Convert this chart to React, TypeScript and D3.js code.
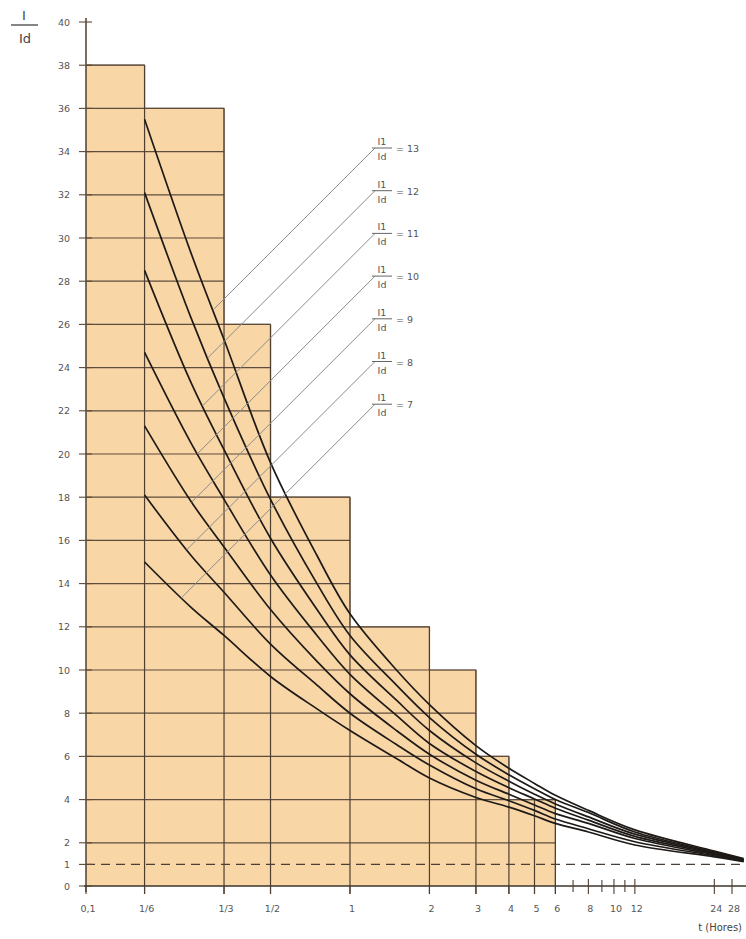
import { useEffect, useRef } from 'react';
import * as d3 from 'd3';

// bars (permissible overload steps)
const barStart = [0.1, 1 / 6, 1 / 3, 1 / 2, 1, 2, 3, 4];
const barEnd = [1 / 6, 1 / 3, 1 / 2, 1, 2, 3, 4, 6];
const barHeight = [38, 36, 26, 18, 12, 10, 6, 4];

// curves I1/Id = 7 .. 13
const times = [1 / 6, 0.25, 1 / 3, 0.5, 0.75, 1, 1.5, 2, 3, 4, 5, 6, 8, 12, 24, 31];
const c13 = [35.5, 29.3, 25.3, 19.6, 15.3, 12.6, 10.0, 8.4, 6.5, 5.45, 4.75, 4.2, 3.5, 2.6, 1.62, 1.27];
const c12 = [32.1, 26.3, 22.6, 17.9, 14.0, 11.6, 9.3, 7.8, 6.1, 5.15, 4.5, 4.0, 3.4, 2.5, 1.58, 1.24];
const c11 = [28.5, 23.3, 20.2, 16.1, 12.8, 10.7, 8.6, 7.2, 5.7, 4.85, 4.25, 3.8, 3.2, 2.4, 1.54, 1.21];
const c10 = [24.7, 20.5, 17.9, 14.4, 11.6, 9.8, 7.9, 6.6, 5.3, 4.55, 4.03, 3.6, 3.05, 2.3, 1.5, 1.19];
const c9 = [21.3, 17.8, 15.7, 12.8, 10.4, 8.9, 7.2, 6.1, 4.9, 4.25, 3.75, 3.35, 2.9, 2.2, 1.45, 1.17];
const c8 = [18.1, 15.3, 13.6, 11.2, 9.3, 8.0, 6.55, 5.6, 4.5, 3.95, 3.5, 3.1, 2.65, 2.05, 1.4, 1.15];
const c7 = [15.0, 12.9, 11.6, 9.7, 8.2, 7.2, 5.9, 5.0, 4.1, 3.65, 3.25, 2.9, 2.5, 1.9, 1.35, 1.13];
const curveNames = ['13', '12', '11', '10', '9', '8', '7'];
const curveValues = [c13, c12, c11, c10, c9, c8, c7];

// axis ticks
const xTickValues = [0.1, 1 / 6, 1 / 3, 1 / 2, 1, 2, 3, 4, 5, 6, 8, 10, 12, 24, 28];
const xTickLabels = ['0,1', '1/6', '1/3', '1/2', '1', '2', '3', '4', '5', '6', '8', '10', '12', '24', '28'];
const xMinorTicks = [7, 9, 11];
const yTickValues = [0, 1, 2, 4, 6, 8, 10, 12, 14, 16, 18, 20, 22, 24, 26, 28, 30, 32, 34, 36, 38, 40];

const W = 746;
const H = 939;
const FONT = 'DejaVu Sans, sans-serif';

function Chart() {
  const ref = useRef<SVGSVGElement>(null);

  useEffect(() => {
    document.body.style.margin = '0';
    const svg = d3.select(ref.current);
    svg.selectAll('*').remove();

    const x = d3.scaleLog().domain([0.1, 28]).range([86, 732]);
    const y = d3.scaleLinear().domain([0, 40]).range([886, 22]);
    const x0 = x(0.1);

    // bars
    svg
      .append('g')
      .selectAll('rect')
      .data(barHeight)
      .join('rect')
      .attr('x', (_, i) => x(barStart[i]))
      .attr('y', d => y(d))
      .attr('width', (_, i) => x(barEnd[i]) - x(barStart[i]))
      .attr('height', d => y(0) - y(d))
      .attr('fill', '#f9d6a6')
      .attr('stroke', 'none');

    // bar outline (top and right edges)
    const outline: [number, number][] = [];
    barHeight.forEach((h, i) => {
      outline.push([x(barStart[i]), y(h)]);
      outline.push([x(barEnd[i]), y(h)]);
    });
    outline.push([x(barEnd[barEnd.length - 1]), y(0)]);
    svg
      .append('path')
      .attr('d', d3.line()(outline))
      .attr('fill', 'none')
      .attr('stroke', '#8a7764')
      .attr('stroke-width', 1.2);

    // horizontal grid inside bars
    const reach = (v: number) => {
      let e = x0;
      barHeight.forEach((h, i) => {
        if (h >= v) e = x(barEnd[i]);
      });
      return e;
    };
    svg
      .append('g')
      .selectAll('line')
      .data(yTickValues.filter(v => v > 1 && v < 40))
      .join('line')
      .attr('x1', x0)
      .attr('x2', d => reach(d))
      .attr('y1', d => y(d))
      .attr('y2', d => y(d))
      .attr('stroke', '#5e4d3c')
      .attr('stroke-width', 1.2);

    // vertical grid inside bars
    const heightAt = (t: number) => {
      let h = 0;
      barHeight.forEach((bh, i) => {
        if (t > barStart[i] && t <= barEnd[i] + 1e-9) h = bh;
      });
      return h;
    };
    svg
      .append('g')
      .selectAll('line')
      .data(xTickValues.filter(t => t > 0.1 && t <= 6))
      .join('line')
      .attr('x1', d => x(d))
      .attr('x2', d => x(d))
      .attr('y1', y(0) + 8)
      .attr('y2', d => y(heightAt(d)))
      .attr('stroke', '#4e3f31')
      .attr('stroke-width', 1.2);

    // dashed line I/Id = 1
    svg
      .append('line')
      .attr('x1', x0)
      .attr('x2', W)
      .attr('y1', y(1))
      .attr('y2', y(1))
      .attr('stroke', '#4a4038')
      .attr('stroke-width', 1.1)
      .attr('stroke-dasharray', '9,6');

    // axes
    svg
      .append('line')
      .attr('x1', x0)
      .attr('x2', x0)
      .attr('y1', 18)
      .attr('y2', y(0) + 6)
      .attr('stroke', '#5a4a3a')
      .attr('stroke-width', 1.6);
    svg
      .append('line')
      .attr('x1', x0 - 2)
      .attr('x2', W)
      .attr('y1', y(0))
      .attr('y2', y(0))
      .attr('stroke', '#3d342c')
      .attr('stroke-width', 1.6);

    // y ticks and labels
    const yt = svg.append('g');
    yt.selectAll('line')
      .data(yTickValues)
      .join('line')
      .attr('x1', x0 - 7)
      .attr('x2', x0 + 6)
      .attr('y1', d => y(d))
      .attr('y2', d => y(d))
      .attr('stroke', '#5a4a3a')
      .attr('stroke-width', 1.1);
    yt.selectAll('text')
      .data(yTickValues)
      .join('text')
      .attr('x', 70)
      .attr('y', d => y(d) + 3.5)
      .attr('text-anchor', 'end')
      .attr('font-family', FONT)
      .attr('font-size', 9.5)
      .attr('fill', '#555')
      .text(d => String(d));

    // x ticks and labels
    const xt = svg.append('g');
    xt.selectAll('line.major')
      .data(xTickValues)
      .join('line')
      .attr('class', 'major')
      .attr('x1', d => x(d))
      .attr('x2', d => x(d))
      .attr('y1', d => (d > 6 ? y(0) - 7 : y(0)))
      .attr('y2', y(0) + 8)
      .attr('stroke', '#4e3f31')
      .attr('stroke-width', 1.1);
    xt.selectAll('line.minor')
      .data(xMinorTicks)
      .join('line')
      .attr('class', 'minor')
      .attr('x1', d => x(d))
      .attr('x2', d => x(d))
      .attr('y1', y(0) - 6)
      .attr('y2', y(0) + 6)
      .attr('stroke', '#4e3f31')
      .attr('stroke-width', 1.1);
    xt.selectAll('text')
      .data(xTickValues)
      .join('text')
      .attr('x', d => x(d) + 2)
      .attr('y', 912)
      .attr('text-anchor', 'middle')
      .attr('font-family', FONT)
      .attr('font-size', 9.5)
      .attr('fill', '#555')
      .text((_, i) => xTickLabels[i]);

    svg
      .append('text')
      .attr('x', 742)
      .attr('y', 931)
      .attr('text-anchor', 'end')
      .attr('font-family', FONT)
      .attr('font-size', 10)
      .attr('fill', '#444')
      .text('t (Hores)');

    // y title I / Id
    const yTitle = svg.append('g').attr('font-family', FONT).attr('fill', '#444');
    yTitle.append('text').attr('x', 24).attr('y', 20).attr('text-anchor', 'middle').attr('font-size', 13).text('I');
    yTitle.append('line').attr('x1', 11).attr('x2', 38).attr('y1', 25).attr('y2', 25).attr('stroke', '#444').attr('stroke-width', 1.3);
    yTitle.append('text').attr('x', 25).attr('y', 43).attr('text-anchor', 'middle').attr('font-size', 13).text('Id');

    // curves
    const line = d3
      .line<number>()
      .x((_, i) => x(times[i]))
      .y(d => y(d))
      .curve(d3.curveCatmullRom.alpha(0.5));
    svg
      .append('g')
      .selectAll('path')
      .data(curveValues)
      .join('path')
      .attr('d', d => line(d))
      .attr('fill', 'none')
      .attr('stroke', '#1e1a17')
      .attr('stroke-width', 1.7);

    // curve value in pixels at pixel px (linear in log t)
    const curveY = (vals: number[], px: number) => {
      const t = x.invert(px);
      let i = 0;
      while (i < times.length - 2 && times[i + 1] < t) i++;
      const a = Math.log(times[i]);
      const b = Math.log(times[i + 1]);
      const f = (Math.log(t) - a) / (b - a);
      return y(vals[i] + f * (vals[i + 1] - vals[i]));
    };

    // labels with leader lines
    const labels = svg.append('g').attr('font-family', FONT).attr('fill', '#555');
    curveNames.forEach((name, k) => {
      const ly = 148 + k * 42.7;
      const sx = 375;
      // leader at 45 degrees down to the curve
      let lo = x(1 / 6);
      let hi = sx;
      for (let it = 0; it < 40; it++) {
        const mid = (lo + hi) / 2;
        const lead = ly + (sx - mid);
        if (curveY(curveValues[k], mid) > lead) hi = mid;
        else lo = mid;
      }
      const ex = (lo + hi) / 2;
      labels
        .append('line')
        .attr('x1', sx)
        .attr('y1', ly)
        .attr('x2', ex)
        .attr('y2', ly + (sx - ex))
        .attr('stroke', '#8c8c8c')
        .attr('stroke-width', 1);
      labels.append('line').attr('x1', 372).attr('x2', 392).attr('y1', ly).attr('y2', ly).attr('stroke', '#666').attr('stroke-width', 1);
      labels.append('text').attr('x', 382).attr('y', ly - 3).attr('text-anchor', 'middle').attr('font-size', 9.5).text('I1');
      labels.append('text').attr('x', 382).attr('y', ly + 12).attr('text-anchor', 'middle').attr('font-size', 9.5).text('Id');
      labels.append('text').attr('x', 396).attr('y', ly + 4).attr('font-size', 9.5).text('= ' + name);
    });
  }, []);

  return <svg ref={ref} width={W} height={H} style={{ display: 'block', background: '#fff' }} />;
}

export default function App() {
  return <Chart />;
}
